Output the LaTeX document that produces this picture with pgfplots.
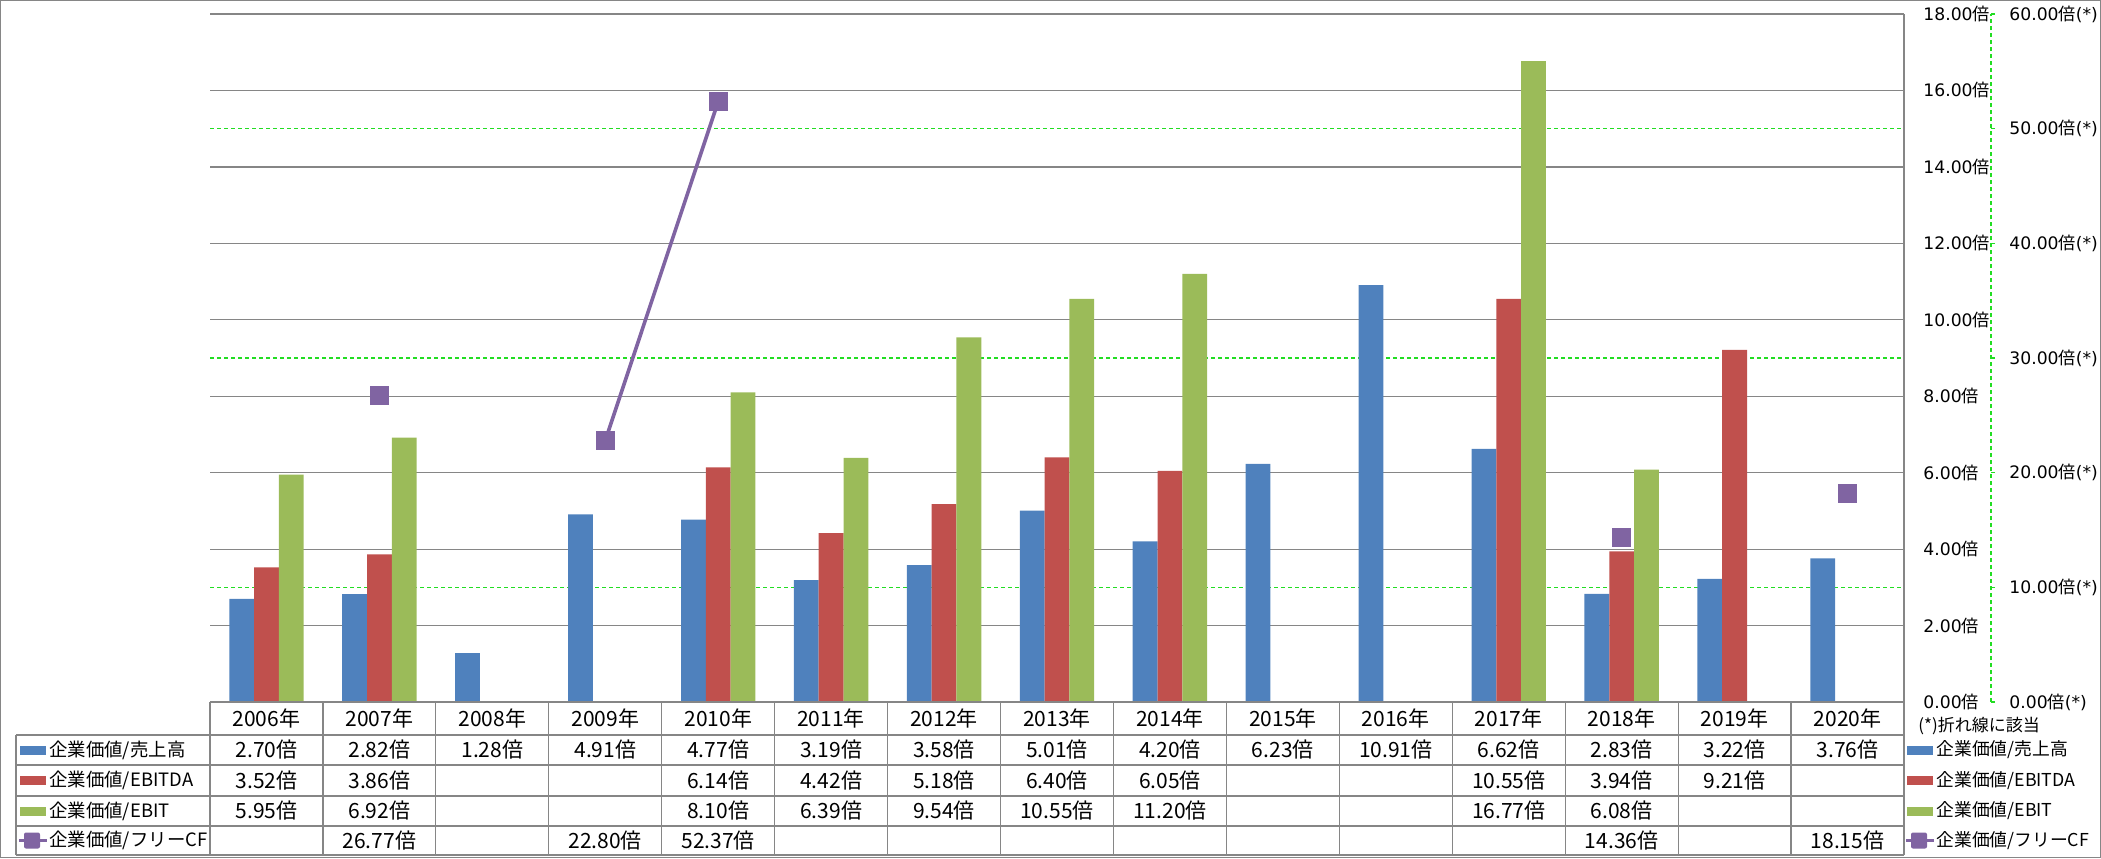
\documentclass[border=0pt]{standalone}
\usepackage{fontspec}
\setmainfont{Noto Sans CJK JP}
\newfontfamily\dv{DejaVu Sans}
\usepackage{pgfplots}
\pgfplotsset{compat=1.18}
\definecolor{cB}{HTML}{4F81BD}
\definecolor{cR}{HTML}{C0504D}
\definecolor{cG}{HTML}{9BBB59}
\definecolor{cP}{HTML}{8064A2}
\definecolor{gridgray}{HTML}{868686}
\definecolor{lime}{HTML}{22DD22}
\newcommand{\tf}{\fontsize{10.5pt}{12pt}\selectfont}
\newcommand{\af}{\fontsize{8.6pt}{10pt}\selectfont}
\newcommand{\ax}[1]{{\dv #1}倍}
\newcommand{\as}[1]{{\dv #1}倍{\dv (*)}}
\pgfplotsset{base/.style={at={(105pt,-351pt)},anchor=south west,width=847pt,height=344pt,
  scale only axis,xmin=-0.5,xmax=14.5,axis x line=none,xtick=\empty}}
\begin{document}
\begin{tikzpicture}
% secondary axis: green grid, axis line and labels
\begin{axis}[base,ymin=0,ymax=60,ytick={0,10,...,60},
  yticklabels={\as{0.00},\as{10.00},\as{20.00},\as{30.00},\as{40.00},\as{50.00},\as{60.00}},
  axis y line*=right, axis y line shift=43.5pt,
  ymajorgrids, major grid style={lime,dash pattern=on 2pt off 1.5pt,line width=0.6pt},
  y axis line style={lime,dash pattern=on 2pt off 1.5pt,line width=0.6pt},
  tick align=outside, major tick length=2pt, tick style={lime,line width=0.6pt,solid},
  yticklabel style={font=\af,anchor=west,inner sep=0pt}, yticklabel shift=7pt]
\addplot[draw=none] coordinates {(0,0)};
\end{axis}
% primary axis with bars
\begin{axis}[base,ymin=0,ymax=18,ytick={0,2,...,18},
  yticklabels={\ax{0.00},\ax{2.00},\ax{4.00},\ax{6.00},\ax{8.00},\ax{10.00},\ax{12.00},\ax{14.00},\ax{16.00},\ax{18.00}},
  axis y line*=right, ymajorgrids, major grid style={gridgray,line width=0.6pt},
  y axis line style={gridgray,line width=0.6pt}, major tick length=0pt,
  yticklabel style={font=\af,anchor=west,inner sep=0pt}, yticklabel shift=9.5pt,
  ybar=0pt, bar width=12.4pt]
\addplot[fill=cB,draw=none] coordinates {(0,2.70) (1,2.82) (2,1.28) (3,4.91) (4,4.77) (5,3.19) (6,3.58) (7,5.01) (8,4.20) (9,6.23) (10,10.91) (11,6.62) (12,2.83) (13,3.22) (14,3.76)};
\addplot[fill=cR,draw=none] coordinates {(0,3.52) (1,3.86) (4,6.14) (5,4.42) (6,5.18) (7,6.40) (8,6.05) (11,10.55) (12,3.94) (13,9.21)};
\addplot[fill=cG,draw=none] coordinates {(0,5.95) (1,6.92) (4,8.10) (5,6.39) (6,9.54) (7,10.55) (8,11.20) (11,16.77) (12,6.08)};
\end{axis}
% secondary: free CF line
\begin{axis}[base,ymin=0,ymax=60,hide axis,unbounded coords=jump]
\addplot[cP,line width=1.8pt,mark=square*,mark size=4.5pt,mark options={fill=cP,draw=cP,line width=0.4pt}]
  coordinates {(0,nan) (1,26.77) (2,nan) (3,22.80) (4,52.37) (5,nan) (6,nan) (7,nan) (8,nan) (9,nan) (10,nan) (11,nan) (12,14.36) (13,nan) (14,18.15)};
\end{axis}
\begin{scope}[x=0.5pt,y=-0.5pt]
% outer border
\draw[gridgray,line width=0.6pt] (0.5,0.5) rectangle (2100.5,857.5);
% table grid
\draw[gridgray,line width=0.6pt] (210,702) -- (1904,702);
\foreach \yy in {735,765,796,826,855} \draw[gridgray,line width=0.6pt] (16,\yy) -- (1904,\yy);
\draw[gridgray,line width=0.6pt] (16,735) -- (16,855);
\foreach \k in {0,...,15} \draw[gridgray,line width=0.6pt] ({210+\k*112.933},702) -- ({210+\k*112.933},855);
% header
\foreach \t [count=\i from 0] in {2006年,2007年,2008年,2009年,2010年,2011年,2012年,2013年,2014年,2015年,2016年,2017年,2018年,2019年,2020年}
  \node[font=\tf,inner sep=0] at ({210+(\i+0.5)*112.933},718.5) {\t};
\foreach \t [count=\i from 0] in {2.70倍,2.82倍,1.28倍,4.91倍,4.77倍,3.19倍,3.58倍,5.01倍,4.20倍,6.23倍,10.91倍,6.62倍,2.83倍,3.22倍,3.76倍}
  \node[font=\tf,inner sep=0] at ({210+(\i+0.5)*112.933},750) {\t};
\foreach \t [count=\i from 0] in {3.52倍,3.86倍,{},{},6.14倍,4.42倍,5.18倍,6.40倍,6.05倍,{},{},10.55倍,3.94倍,9.21倍,{}}
  \node[font=\tf,inner sep=0] at ({210+(\i+0.5)*112.933},780.5) {\t};
\foreach \t [count=\i from 0] in {5.95倍,6.92倍,{},{},8.10倍,6.39倍,9.54倍,10.55倍,11.20倍,{},{},16.77倍,6.08倍,{},{}}
  \node[font=\tf,inner sep=0] at ({210+(\i+0.5)*112.933},811) {\t};
\foreach \t [count=\i from 0] in {{},26.77倍,{},22.80倍,52.37倍,{},{},{},{},{},{},{},14.36倍,{},18.15倍}
  \node[font=\tf,inner sep=0] at ({210+(\i+0.5)*112.933},840.5) {\t};
% row labels and right legend
\foreach \xo/\fs in {0/9.2pt,1887/8.9pt} {
  \fill[cB] ({20+\xo},745.5) rectangle ({46+\xo},754.5);
  \fill[cR] ({20+\xo},776) rectangle ({46+\xo},785);
  \fill[cG] ({20+\xo},806.5) rectangle ({46+\xo},815.5);
  \draw[cP,line width=1.8pt] ({19+\xo},840.5) -- ({47+\xo},840.5);
  \fill[cP,rounded corners=1pt] ({24+\xo},832.5) rectangle ({40+\xo},848.5);
  \node[font=\fontsize{\fs}{12pt}\selectfont,inner sep=0,anchor=west] at ({49+\xo},750) {企業価値/売上高};
  \node[font=\fontsize{\fs}{12pt}\selectfont,inner sep=0,anchor=west] at ({49+\xo},780.5) {企業価値/EBITDA};
  \node[font=\fontsize{\fs}{12pt}\selectfont,inner sep=0,anchor=west] at ({49+\xo},811) {企業価値/EBIT};
  \node[font=\fontsize{\fs}{12pt}\selectfont,inner sep=0,anchor=west] at ({49+\xo},840.5) {企業価値/フリーCF};
}
\node[font=\fontsize{8.5pt}{10pt}\selectfont,inner sep=0,anchor=west] at (1918,726) {(*)折れ線に該当};
\pgfresetboundingbox
\path[use as bounding box] (0,0) rectangle (2101,858);
\end{scope}
\end{tikzpicture}
\end{document}
